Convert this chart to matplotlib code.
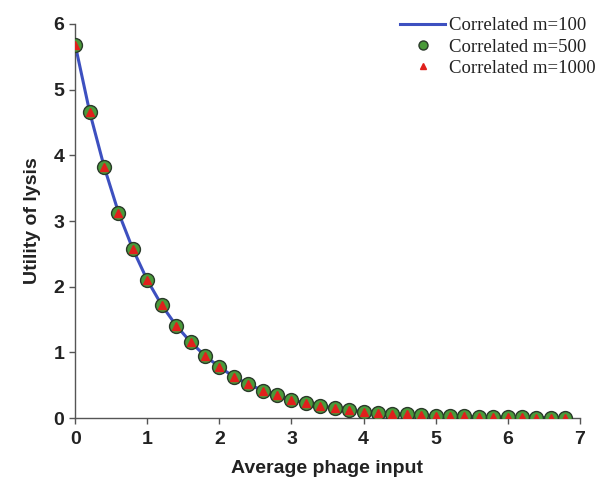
import matplotlib
matplotlib.use("Agg")
import matplotlib.pyplot as plt

x_vals = [0.0, 0.2, 0.4, 0.6, 0.8, 1.0, 1.2, 1.4, 1.6, 1.8, 2.0, 2.2, 2.4, 2.6, 2.8,
          3.0, 3.2, 3.4, 3.6, 3.8, 4.0, 4.2, 4.4, 4.6, 4.8, 5.0, 5.2, 5.4, 5.6, 5.8,
          6.0, 6.2, 6.4, 6.6, 6.8]
util_m100 = [5.68, 4.66, 3.83, 3.13, 2.57, 2.10, 1.72, 1.41, 1.16, 0.95, 0.78, 0.63,
             0.52, 0.42, 0.35, 0.28, 0.23, 0.19, 0.155, 0.125, 0.10, 0.085, 0.07, 0.057,
             0.047, 0.038, 0.031, 0.026, 0.021, 0.017, 0.014, 0.012, 0.010, 0.008, 0.007]
util_m500 = list(util_m100)
util_m1000 = list(util_m100)

x_ticks = [0, 1, 2, 3, 4, 5, 6, 7]
y_ticks = [0, 1, 2, 3, 4, 5, 6]

fig = plt.figure(figsize=(6.02, 4.79), dpi=100)
ax = fig.add_axes([0.125, 0.127, 0.838, 0.823])

ax.plot(x_vals, util_m100, color="#3d50c0", lw=2.2, label="Correlated m=100", zorder=2)
ax.plot(x_vals, util_m500, ls="none", marker="o", ms=10, mfc="#4a9a3a", mec="#2a3a2a",
        mew=1.0, label="Correlated m=500", zorder=3)
ax.plot(x_vals, util_m1000, ls="none", marker="^", ms=6, mfc="#e0201c", mec="#e0201c",
        label="Correlated m=1000", zorder=4)

ax.set_xlim(0, 7)
ax.set_ylim(0, 6)
ax.set_xticks(x_ticks)
ax.set_yticks(y_ticks)
for s in ["top", "right"]:
    ax.spines[s].set_visible(False)
for s in ["left", "bottom"]:
    ax.spines[s].set_color("#555555")
    ax.spines[s].set_linewidth(1.0)
ax.tick_params(direction="out", length=4, color="#555555", width=1.0)
ax.tick_params(axis="x", pad=5)
ax.tick_params(axis="y", pad=4)
for lab in ax.get_xticklabels() + ax.get_yticklabels():
    lab.set_fontfamily("Liberation Sans")
    lab.set_fontweight("bold")
    lab.set_fontsize(14)
    lab.set_color("#222222")

ax.set_xlabel("Average phage input", fontfamily="Liberation Sans", fontweight="bold",
              fontsize=14, color="#222222", labelpad=9)
ax.set_ylabel("Utility of lysis", fontfamily="Liberation Sans", fontweight="bold",
              fontsize=14, color="#222222", labelpad=9)

leg = ax.legend(loc="upper right", bbox_to_anchor=(1.065, 1.06), frameon=False,
                prop={"family": "Liberation Serif", "size": 13.5}, handlelength=2.4,
                labelspacing=0.22, handletextpad=0.2, markerscale=0.65)
for t in leg.get_texts():
    t.set_color("#222222")

fig.savefig("out.png", dpi=100)
